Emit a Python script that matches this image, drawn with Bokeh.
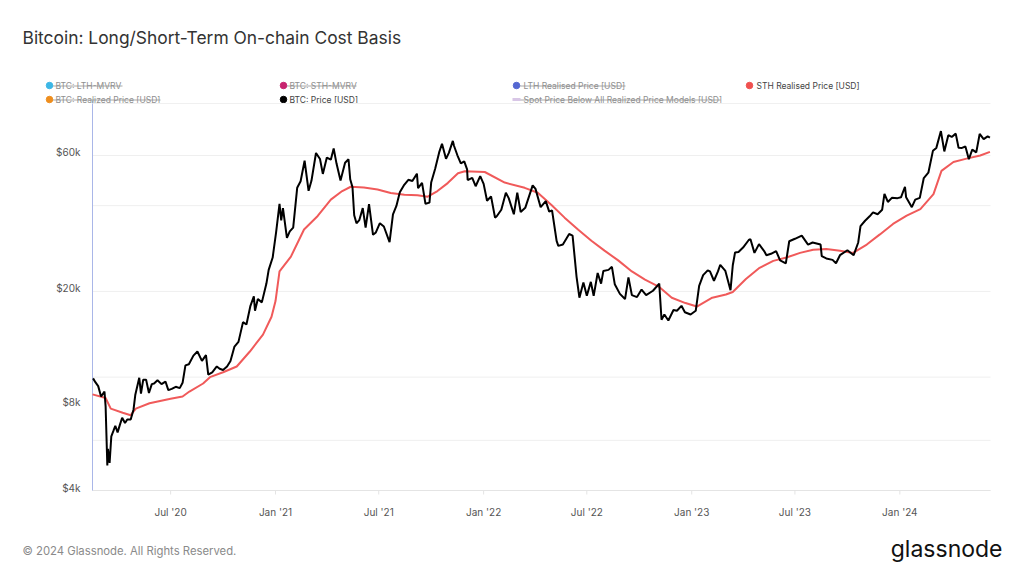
import math
import pandas as pd
from bokeh.plotting import figure
from bokeh.models import Range1d, LinearScale, LogScale, ColumnDataSource
from bokeh.core.properties import value
from bokeh.embed import file_html
from bokeh.resources import INLINE

# ---------------- data ----------------
price_dates = [
    "2020-02-16", "2020-02-20", "2020-02-25", "2020-03-01", "2020-03-07", "2020-03-09", "2020-03-12", "2020-03-13",
    "2020-03-16", "2020-03-19", "2020-03-23", "2020-03-26", "2020-03-30", "2020-04-03", "2020-04-07", "2020-04-12",
    "2020-04-16", "2020-04-22", "2020-04-27", "2020-04-30", "2020-05-07", "2020-05-10", "2020-05-14", "2020-05-19",
    "2020-05-24", "2020-05-29", "2020-06-02", "2020-06-08", "2020-06-15", "2020-06-22", "2020-06-27", "2020-07-03",
    "2020-07-10", "2020-07-17", "2020-07-22", "2020-07-27", "2020-08-02", "2020-08-10", "2020-08-17", "2020-08-25",
    "2020-09-01", "2020-09-05", "2020-09-12", "2020-09-20", "2020-09-25", "2020-10-01", "2020-10-08", "2020-10-14",
    "2020-10-21", "2020-10-28", "2020-11-05", "2020-11-11", "2020-11-18", "2020-11-24", "2020-11-26", "2020-12-01",
    "2020-12-08", "2020-12-16", "2020-12-20", "2020-12-27", "2021-01-02", "2021-01-08", "2021-01-11", "2021-01-14",
    "2021-01-21", "2021-01-26", "2021-02-01", "2021-02-08", "2021-02-14", "2021-02-21", "2021-02-28", "2021-03-05",
    "2021-03-13", "2021-03-20", "2021-03-25", "2021-04-01", "2021-04-08", "2021-04-13", "2021-04-18", "2021-04-25",
    "2021-05-03", "2021-05-09", "2021-05-12", "2021-05-16", "2021-05-19", "2021-05-23", "2021-05-28", "2021-06-03",
    "2021-06-08", "2021-06-14", "2021-06-21", "2021-06-26", "2021-07-03", "2021-07-10", "2021-07-20", "2021-07-26",
    "2021-08-01", "2021-08-07", "2021-08-14", "2021-08-22", "2021-08-29", "2021-09-06", "2021-09-08", "2021-09-15",
    "2021-09-21", "2021-09-28", "2021-10-01", "2021-10-08", "2021-10-15", "2021-10-20", "2021-10-27", "2021-11-01",
    "2021-11-08", "2021-11-10", "2021-11-16", "2021-11-22", "2021-11-28", "2021-12-03", "2021-12-04", "2021-12-12",
    "2021-12-18", "2021-12-26", "2022-01-01", "2022-01-07", "2022-01-14", "2022-01-21", "2022-01-24", "2022-02-01",
    "2022-02-09", "2022-02-14", "2022-02-23", "2022-03-01", "2022-03-07", "2022-03-15", "2022-03-28", "2022-04-02",
    "2022-04-11", "2022-04-20", "2022-04-26", "2022-05-01", "2022-05-09", "2022-05-12", "2022-05-20", "2022-05-31",
    "2022-06-06", "2022-06-13", "2022-06-18", "2022-06-25", "2022-07-01", "2022-07-08", "2022-07-13", "2022-07-20",
    "2022-07-26", "2022-07-30", "2022-08-08", "2022-08-14", "2022-08-19", "2022-08-28", "2022-09-06", "2022-09-12",
    "2022-09-18", "2022-09-27", "2022-10-05", "2022-10-13", "2022-10-25", "2022-11-05", "2022-11-09", "2022-11-14",
    "2022-11-21", "2022-11-30", "2022-12-06", "2022-12-14", "2022-12-20", "2022-12-30", "2023-01-08", "2023-01-14",
    "2023-01-21", "2023-01-29", "2023-02-02", "2023-02-09", "2023-02-16", "2023-02-20", "2023-03-01", "2023-03-10",
    "2023-03-14", "2023-03-18", "2023-03-24", "2023-04-01", "2023-04-11", "2023-04-14", "2023-04-21", "2023-04-29",
    "2023-05-08", "2023-05-12", "2023-05-20", "2023-05-29", "2023-06-05", "2023-06-15", "2023-06-21", "2023-07-01",
    "2023-07-13", "2023-07-24", "2023-08-01", "2023-08-15", "2023-08-17", "2023-08-25", "2023-09-05", "2023-09-11",
    "2023-09-18", "2023-10-01", "2023-10-12", "2023-10-20", "2023-10-24", "2023-11-01", "2023-11-09", "2023-11-15",
    "2023-11-23", "2023-12-01", "2023-12-05", "2023-12-11", "2023-12-18", "2023-12-28", "2024-01-03", "2024-01-10",
    "2024-01-12", "2024-01-22", "2024-01-28", "2024-02-05", "2024-02-12", "2024-02-20", "2024-02-28", "2024-03-05",
    "2024-03-13", "2024-03-19", "2024-03-26", "2024-04-01", "2024-04-08", "2024-04-13", "2024-04-19", "2024-04-25",
    "2024-05-01", "2024-05-07", "2024-05-14", "2024-05-20", "2024-05-27", "2024-06-03", "2024-06-07",
]
price_usd = [
    9900, 9600, 9300, 8550, 8900, 7900, 4900, 5600,
    5000, 6200, 6500, 6750, 6400, 6800, 7200, 6900,
    7100, 7100, 7700, 8650, 9950, 8750, 9800, 9800,
    8800, 9450, 9500, 9750, 9450, 9650, 9000, 9100,
    9250, 9150, 9550, 11000, 11100, 11900, 12300, 11400,
    11950, 10200, 10400, 10900, 10700, 10600, 10900, 11400,
    12800, 13300, 15600, 15300, 17800, 19200, 17100, 18800,
    18300, 21300, 23800, 26300, 32200, 40600, 35500, 39200,
    30800, 32500, 33500, 46200, 48700, 57500, 45100, 48900,
    61200, 58300, 51700, 59000, 58000, 63500, 56200, 49000,
    56600, 58200, 49500, 46400, 37000, 34700, 35600, 39200,
    33500, 40500, 31600, 32200, 34700, 33800, 29800, 37300,
    39900, 44600, 47100, 49300, 48800, 51800, 46100, 48100,
    40600, 41000, 48200, 53900, 61500, 66000, 58400, 61300,
    67500, 64900, 60100, 56300, 57200, 53600, 49200, 50100,
    46800, 50800, 47700, 41600, 43100, 36300, 36700, 38700,
    44400, 42500, 37300, 44400, 38000, 39300, 47100, 45800,
    39500, 41500, 38100, 38500, 30100, 28900, 29200, 31800,
    31400, 22500, 19000, 21500, 19300, 21600, 19300, 23200,
    21300, 23600, 23800, 24400, 21200, 19600, 18800, 22400,
    19400, 19100, 20300, 19400, 20100, 21300, 15900, 16600,
    15800, 17200, 17100, 17800, 16900, 16600, 17100, 20900,
    22800, 23700, 23500, 21800, 23500, 24800, 23600, 20200,
    24700, 27400, 27500, 28500, 30300, 30500, 27300, 29300,
    27700, 26800, 27100, 27700, 25700, 25100, 30000, 30600,
    31400, 29200, 29700, 29200, 26600, 26100, 25800, 25100,
    26800, 27900, 26800, 29700, 33900, 35400, 36700, 37900,
    37300, 38700, 44000, 41200, 42600, 42500, 42800, 46600,
    42800, 39500, 42000, 42600, 50000, 52200, 62300, 63800,
    73100, 62000, 70700, 69700, 71600, 63900, 63800, 64500,
    58200, 62900, 61500, 71400, 68500, 70000, 69300,
]

sth_dates = [
    "2020-02-15", "2020-03-09", "2020-03-18", "2020-04-08", "2020-04-22", "2020-05-01", "2020-05-25", "2020-07-01",
    "2020-07-22", "2020-08-03", "2020-08-27", "2020-09-08", "2020-10-01", "2020-10-25", "2020-11-17", "2020-12-10",
    "2020-12-25", "2021-01-01", "2021-01-08", "2021-01-28", "2021-02-20", "2021-03-16", "2021-04-08", "2021-04-28",
    "2021-05-13", "2021-06-05", "2021-06-29", "2021-07-22", "2021-08-15", "2021-09-07", "2021-09-25", "2021-10-12",
    "2021-10-30", "2021-11-17", "2021-11-29", "2022-01-03", "2022-02-07", "2022-03-14", "2022-04-06", "2022-04-30",
    "2022-05-23", "2022-06-16", "2022-07-09", "2022-08-01", "2022-08-25", "2022-09-18", "2022-10-11", "2022-11-04",
    "2022-11-27", "2022-12-21", "2023-01-10", "2023-02-06", "2023-03-02", "2023-03-14", "2023-04-06", "2023-04-30",
    "2023-05-24", "2023-06-16", "2023-07-10", "2023-08-02", "2023-08-25", "2023-09-18", "2023-10-11", "2023-11-04",
    "2023-11-27", "2023-12-20", "2024-01-13", "2024-02-06", "2024-02-29", "2024-03-14", "2024-04-04", "2024-04-27",
    "2024-05-21", "2024-06-07",
]
sth_usd = [
    8700, 8450, 7750, 7500, 7350, 7750, 8100, 8400,
    8550, 8900, 9500, 10000, 10400, 10900, 12300, 14100,
    16300, 18500, 23500, 26500, 33000, 36800, 42000, 45000,
    46600, 46300, 45600, 44300, 43700, 43500, 43000, 45000,
    48000, 52000, 52800, 52500, 48200, 46200, 44400, 40200,
    36300, 32900, 30100, 27800, 25700, 23500, 22000, 20800,
    19000, 18200, 17700, 19000, 19500, 19900, 22100, 24200,
    25600, 26300, 27300, 28000, 28200, 27800, 27300, 29200,
    31700, 34500, 36900, 38900, 43900, 53000, 56900, 58500,
    60000, 61800,
]

x_tick_dates = ["2020-07-01", "2021-01-01", "2021-07-01", "2022-01-01",
                "2022-07-01", "2023-01-01", "2023-07-01", "2024-01-01"]
x_tick_labels = ["Jul '20", "Jan '21", "Jul '21", "Jan '22", "Jul '22", "Jan '23", "Jul '23", "Jan '24"]
y_tick_values = [4000, 8000, 20000, 60000]
y_tick_labels = ["$4k", "$8k", "$20k", "$60k"]
y_grid_values = [4000, 6000, 10000, 20000, 40000, 60000]
x_start, x_end = "2020-02-15", "2024-06-08"
y_min, y_max = 4000, 90600

title_text = "Bitcoin: Long/Short-Term On-chain Cost Basis"
legend_labels = ["BTC: LTH-MVRV", "BTC: STH-MVRV", "LTH Realised Price [USD]", "STH Realised Price [USD]",
                 "BTC: Realized Price [USD]", "BTC: Price [USD]", "Spot Price Below All Realized Price Models [USD]"]
legend_colors = ["#3db7e6", "#c8246f", "#5568d2", "#f0514f", "#ee8e1e", "#000000", "#d8c6e6"]
legend_hidden = [True, True, True, False, True, False, True]
footer_text = "\u00a9 2024 Glassnode. All Rights Reserved."
brand_text = "glassnode"

# ---------------- layout constants (page pixels) ----------------
FONT = "Inter"
W, H = 1024, 576
FL, FR, FT, FB = 92, 990, 104, 490   # plotting area edges

# scales: whole canvas is the frame; ranges extended so the data area lands on FL..FR / FT..FB
D0 = pd.Timestamp(x_start).value / 1e6
D1 = pd.Timestamp(x_end).value / 1e6
ms_per_px = (D1 - D0) / (FR - FL)
k = math.log(y_max / y_min) / (FB - FT)

p = figure(width=W, height=H, output_backend="svg", toolbar_location=None, title=None,
           x_range=Range1d(D0 - FL * ms_per_px, D1 + (W - FR) * ms_per_px),
           y_range=Range1d(y_min * math.exp(-(H - FB) * k), y_max * math.exp(FT * k)),
           x_axis_location=None, y_axis_location=None, min_border=0)
p.y_scale = LogScale()
p.x_scale = LinearScale()
p.grid.visible = False
p.outline_line_color = None
p.extra_x_ranges = {"px": Range1d(0, W)}
p.extra_y_ranges = {"px": Range1d(H, 0)}
p.extra_x_scales = {"px": LinearScale()}
p.extra_y_scales = {"px": LinearScale()}
PX = dict(x_range_name="px", y_range_name="px")

# ---------------- grid & axes ----------------
n = len(y_grid_values)
p.segment(x0=[D0] * n, y0=y_grid_values, x1=[D1] * n, y1=y_grid_values, line_color="#efefef", line_width=1)
p.segment(x0=[D0], y0=[y_min], x1=[D1], y1=[y_min], line_color="#e4e4e4", line_width=1)

xt = [pd.Timestamp(d).value / 1e6 for d in x_tick_dates]
p.segment(x0=xt, y0=[FB] * len(xt), x1=xt, y1=[FB + 4] * len(xt), y_range_name="px",
          line_color="#e4e4e4", line_width=1)
p.text(x=xt, y=[FB + 21] * len(xt), text=x_tick_labels, y_range_name="px",
       text_font=value(FONT), text_font_size="10px", text_color="#555555",
       text_align="center", text_baseline="middle")

p.text(x=[FL - 12] * len(y_tick_values), y=y_tick_values, text=y_tick_labels, x_range_name="px",
       text_font=value(FONT), text_font_size="10px", text_color="#555555",
       text_align="right", text_baseline="middle", y_offset=-3)

p.segment(x0=[D0], y0=[100], x1=[D0], y1=[FB], y_range_name="px", line_color="#a9b6e8", line_width=1)

# ---------------- series ----------------
price = ColumnDataSource(dict(x=pd.to_datetime(price_dates), y=price_usd))
sth = ColumnDataSource(dict(x=pd.to_datetime(sth_dates), y=sth_usd))
p.line("x", "y", source=sth, line_color="#f05a5a", line_width=2)
p.line("x", "y", source=price, line_color="#000000", line_width=2)

# ---------------- title ----------------
p.text(x=[22], y=[37], text=[title_text], text_font=value(FONT), text_font_size="17.4px",
       text_color="#333333", text_baseline="middle", text_align="left", **PX)

# ---------------- legend ----------------
col_dot = [49, 283, 516, 749]
col_txt = [55, 289, 523, 756]
row_y = [85, 99]
strike_end = [122, 356, 625, None, 160, None, 720]
slots = [(0, 0), (1, 0), (2, 0), (3, 0), (0, 1), (1, 1), (2, 1)]
for i, lab in enumerate(legend_labels):
    c, r = slots[i]
    y = row_y[r]
    hidden = legend_hidden[i]
    if hidden:
        p.segment(x0=[col_dot[c]], y0=[y + 0.5], x1=[strike_end[i]], y1=[y + 0.5],
                  line_color="#a8a8a8", line_width=1, **PX)
    if i == 6:
        p.segment(x0=[col_dot[c] - 4], y0=[y], x1=[col_dot[c] + 4], y1=[y],
                  line_color=legend_colors[i], line_width=3, **PX)
    else:
        p.scatter(x=[col_dot[c]], y=[y], size=6.5, marker="circle",
                  fill_color=legend_colors[i], line_color=legend_colors[i], **PX)
    p.text(x=[col_txt[c]], y=[y], text=[lab], text_font=value(FONT), text_font_size="8.5px",
           text_color="#8f8f8f" if hidden else "#444444", text_baseline="middle", text_align="left", **PX)

p.segment(x0=[FL], y0=[103], x1=[FR], y1=[103], line_color="#f0f0f0", line_width=1, **PX)

# ---------------- footer ----------------
p.text(x=[22], y=[550], text=[footer_text], text_font=value(FONT), text_font_size="11.3px",
       text_color="#8a8a8a", text_baseline="middle", text_align="left", **PX)
p.text(x=[1002], y=[548], text=[brand_text], text_font=value(FONT), text_font_size="23px",
       text_color="#111111", text_baseline="middle", text_align="right", **PX)

open("out.html", "w").write(file_html(p, INLINE))
